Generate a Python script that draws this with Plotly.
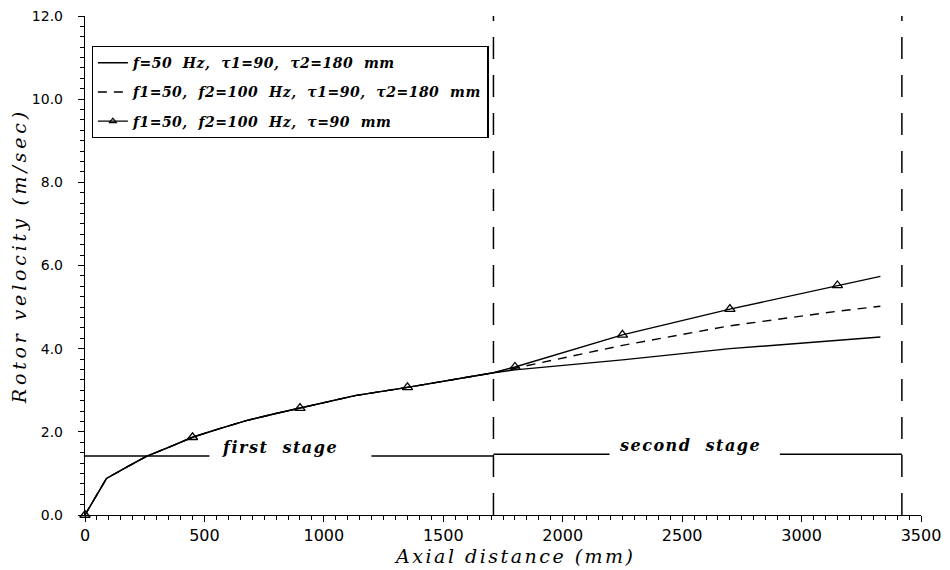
import plotly.graph_objects as go

# ---------------- data ----------------
# first stage: common curve for all three cases (mm, m/s)
x_stage1 = [0, 90, 180, 257, 360, 450, 560, 675, 790, 900, 1130, 1350, 1530, 1710]
v_stage1 = [0, 0.88, 1.17, 1.41, 1.65, 1.87, 2.07, 2.27, 2.43, 2.57, 2.87, 3.07, 3.25, 3.42]

# second stage (mm)
x_stage2 = [1710, 1800, 2250, 2700, 3150, 3330]
v_f50 = [3.42, 3.49, 3.73, 4.00, 4.19, 4.28]          # f=50 Hz, tau1=90, tau2=180 mm
v_f100_t180 = [3.42, 3.53, 4.08, 4.55, 4.90, 5.02]    # f1=50, f2=100 Hz, tau1=90, tau2=180 mm
v_f100_t90 = [3.42, 3.56, 4.33, 4.95, 5.52, 5.74]     # f1=50, f2=100 Hz, tau=90 mm

marker_step = 450  # triangle markers every 450 mm

series_names = [
    "f=50  Hz,  τ1=90,  τ2=180  mm",
    "f1=50,  f2=100  Hz,  τ1=90,  τ2=180  mm",
    "f1=50,  f2=100  Hz,  τ=90  mm",
]

stage_bounds = [0, 1710, 3420]
stage_labels = ["first stage", "second stage"]
stage_line_y = [1.42, 1.46]
stage_text_x = [815, 2533]
stage_gap = [[521, 1199], [2196, 2909]]

x_ticks = [0, 500, 1000, 1500, 2000, 2500, 3000, 3500]
y_ticks = [0, 2, 4, 6, 8, 10, 12]


def spaced(text, px):
    return f'<span style="letter-spacing:{px}px">{text}</span>'


# ---------------- figure ----------------
x_all = x_stage1 + x_stage2[1:]
ys = [v_stage1 + v[1:] for v in (v_f50, v_f100_t180, v_f100_t90)]

fig = go.Figure()
LW = 1.4
fig.add_trace(go.Scatter(x=x_all, y=ys[0], mode="lines", legendgroup="a",
                         line=dict(color="black", width=LW), name=spaced(series_names[0], 0.5)))
fig.add_trace(go.Scatter(x=x_all, y=ys[1], mode="lines", legendgroup="b",
                         line=dict(color="black", width=LW, dash="9px,7px"),
                         name=spaced(series_names[1], 0.5)))
fig.add_trace(go.Scatter(x=x_all, y=ys[2], mode="lines", legendgroup="c",
                         line=dict(color="black", width=LW), showlegend=False))
mx = [x for x in x_all if x % marker_step == 0]
my = [y for x, y in zip(x_all, ys[2]) if x % marker_step == 0]
fig.add_trace(go.Scatter(x=mx, y=my, mode="markers", cliponaxis=False, showlegend=False,
                         legendgroup="c",
                         marker=dict(symbol="triangle-up-open", size=9, color="black",
                                     line=dict(width=1.3, color="black"))))
# legend entry for the triangle series
fig.add_trace(go.Scatter(x=[None], y=[None], mode="lines+markers", legendgroup="c",
                         name=spaced(series_names[2], 0.5),
                         line=dict(color="black", width=LW),
                         marker=dict(symbol="triangle-up-open", size=6, color="black",
                                     line=dict(width=1.2, color="black"))))

shapes = []
# stage boundaries (dashed vertical lines)
for xb in stage_bounds[1:]:
    shapes.append(dict(type="line", xref="x", yref="y", x0=xb, x1=xb, y0=0, y1=12,
                       line=dict(color="black", width=1.5, dash="22px,16px")))
# stage indicator lines
for i in range(2):
    a, b = stage_bounds[i], stage_bounds[i + 1]
    g0, g1 = stage_gap[i]
    for s0, s1 in ((a, g0), (g1, b)):
        shapes.append(dict(type="line", xref="x", yref="y", x0=s0, x1=s1,
                           y0=stage_line_y[i], y1=stage_line_y[i],
                           line=dict(color="black", width=1.4)))

annotations = []
for i in range(2):
    annotations.append(dict(x=stage_text_x[i], y=stage_line_y[i] + 0.2, xref="x", yref="y",
                            text=spaced(stage_labels[i].replace(" ", "&nbsp;&nbsp;"), 1.5),
                            showarrow=False, xanchor="center", yanchor="middle",
                            font=dict(family="DejaVu Serif", size=16, color="black",
                                      style="italic", weight="bold")))

# the page body adds an 8px offset; margins compensate so the plot area
# sits at about x 85..921, y 16..515 in the window
fig.update_layout(
    width=950, height=570,
    margin=dict(l=77, r=37, t=8, b=63),
    paper_bgcolor="white", plot_bgcolor="white",
    shapes=shapes, annotations=annotations,
    showlegend=True,
    legend=dict(x=0.008, y=0.94, xanchor="left", yanchor="top",
                bgcolor="white", bordercolor="black", borderwidth=1.2,
                itemwidth=30, tracegroupgap=8, traceorder="grouped",
                font=dict(family="DejaVu Serif", size=14, color="black",
                          style="italic", weight="bold")),
    xaxis=dict(range=[0, 3500], tickvals=x_ticks, ticktext=[str(v) for v in x_ticks],
               automargin=False, ticklabeloverflow="allow",
               showline=True, linecolor="black", linewidth=1.4,
               ticks="outside", ticklen=6, tickwidth=1.4, tickcolor="black",
               minor=dict(dtick=50, tick0=0, ticks="outside", ticklen=4, tickwidth=1.1,
                          tickcolor="black", showgrid=False),
               showgrid=False, zeroline=False,
               tickfont=dict(family="DejaVu Sans", size=16, color="black"),
               title=dict(text=spaced("&nbsp;&nbsp;&nbsp;Axial distance (mm)", 2.5), standoff=0,
                          font=dict(family="DejaVu Serif", size=19, color="black", style="italic"))),
    yaxis=dict(range=[0, 12], tickvals=y_ticks, ticktext=[f"{v:.1f}" for v in y_ticks],
               automargin=False, ticklabeloverflow="allow",
               showline=True, linecolor="black", linewidth=1.4,
               ticks="outside", ticklen=6, tickwidth=1.4, tickcolor="black",
               minor=dict(dtick=0.25, tick0=0, ticks="outside", ticklen=4, tickwidth=1.1,
                          tickcolor="black", showgrid=False),
               ticklabelstandoff=12,
               showgrid=False, zeroline=False,
               tickfont=dict(family="DejaVu Sans", size=14, color="black"),
               title=dict(text=spaced("&nbsp;&nbsp;Rotor velocity (m/sec)", 3.8), standoff=10,
                          font=dict(family="DejaVu Serif", size=19, color="black", style="italic"))),
)

fig.write_html("out.html")
